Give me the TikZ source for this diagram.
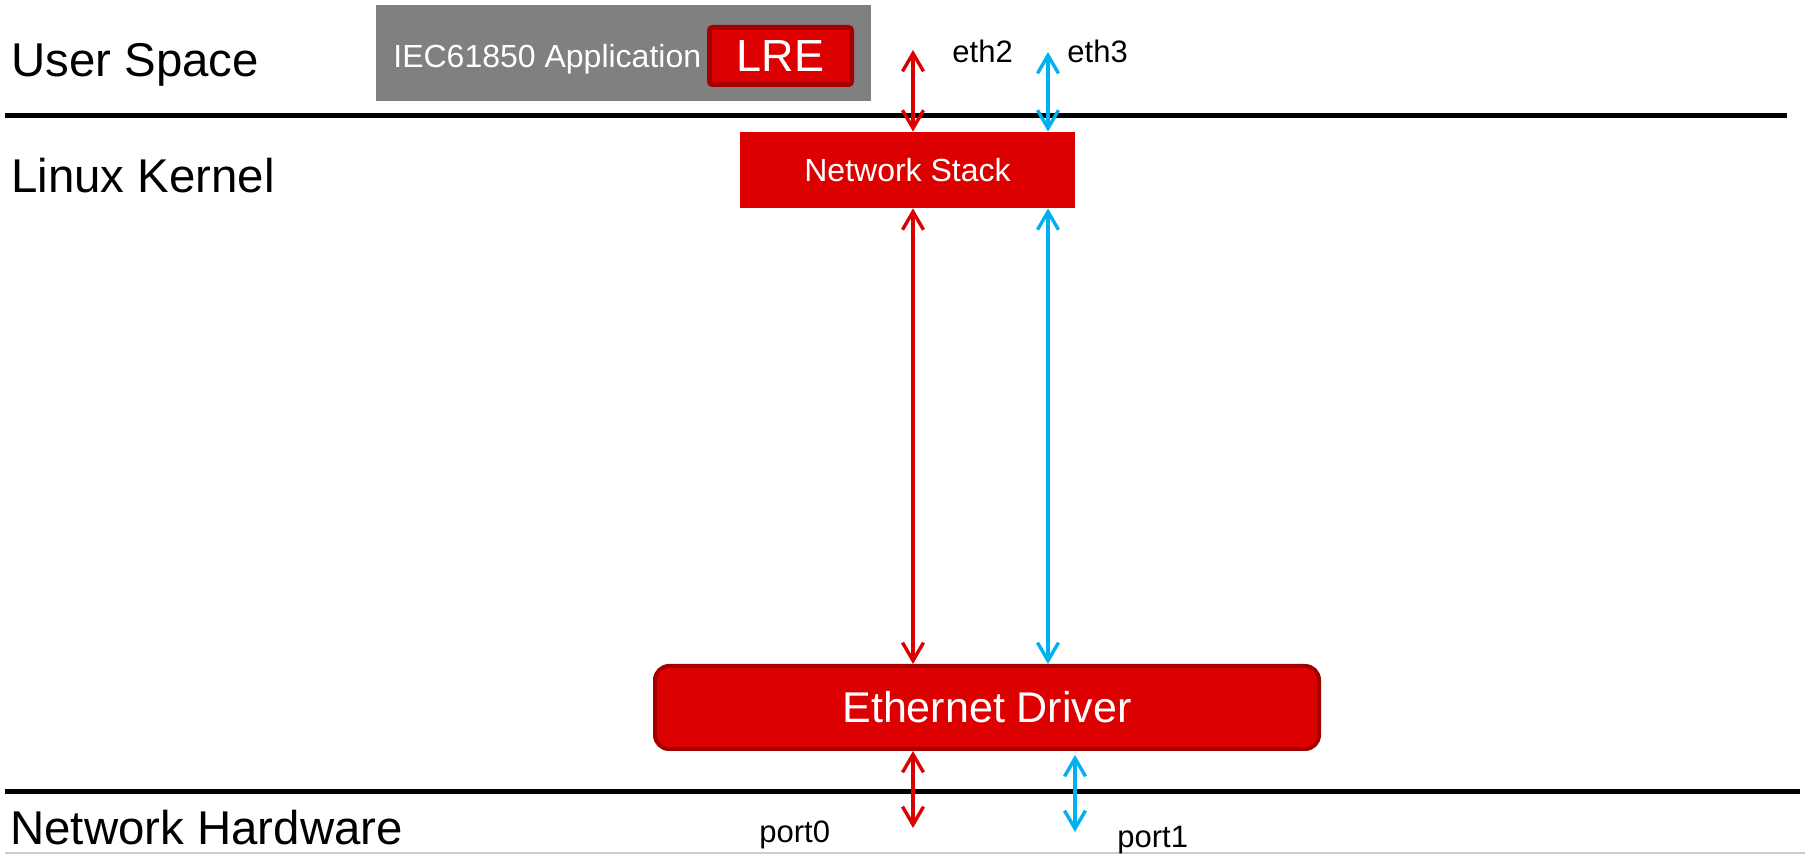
\documentclass[tikz,border=0pt]{standalone}
\usepackage{fontspec}
\setmainfont{Liberation Sans}
\usetikzlibrary{arrows.meta}
\definecolor{tired}{HTML}{DD0000}
\definecolor{tidark}{HTML}{A50000}
\definecolor{tiblue}{HTML}{00B0F0}
\definecolor{tigray}{HTML}{808080}
\begin{document}
\begin{tikzpicture}[x=0.5pt,y=-0.5pt,
  layer/.style={font=\fontsize{23.7}{28}\selectfont, anchor=base west, inner sep=0pt},
  small/.style={font=\fontsize{15.5}{18}\selectfont, anchor=base west, inner sep=0pt},
  rule/.style={line width=2.5pt, black},
  tip/.tip={Straight Barb[length=9pt,width=10.5pt]},
  link/.style={line width=1.7pt, tip-tip},
  redbox/.style={fill=tired, text=white, inner sep=0pt},
]
\useasboundingbox (0,0) rectangle (1805,854);
\fill[white] (0,0) rectangle (1805,854);

% layer labels
\node[layer] (us) at (11,77) {User Space};
\node[layer] (lk) at (11,193) {Linux Kernel};
\node[layer] (nh) at (10,845) {Network Hardware};

% rules
\coordinate (r1a) at (5,116);
\coordinate (r1b) at (1787,116);
\coordinate (r2a) at (5,792);
\coordinate (r2b) at (1800,792);
\draw[rule] (r1a) -- (r1b);
\draw[rule] (r2a) -- (r2b);
\coordinate (r3a) at (5,853);
\coordinate (r3b) at (1805,853);
\draw[line width=0.8pt, gray!40] (r3a) -- (r3b);

% application box
\node[fill=tigray, minimum width=247.5pt, minimum height=48pt, inner sep=0pt] (app) at (623.5,53) {};
\node[font=\fontsize{16}{19}\selectfont, text=white, anchor=base west, inner sep=0pt] (iec) at (393,68) {IEC61850 Application};
\node[redbox, draw=tidark, line width=2.5pt, rounded corners=1.5pt, minimum width=71pt, minimum height=28.5pt, font=\fontsize{22.5}{27}\selectfont] (lre) at (780.5,56) {LRE};

% network stack
\node[redbox, minimum width=167.5pt, minimum height=38pt, font=\fontsize{16}{19}\selectfont] (ns) at (907.5,170) {Network Stack};

% ethernet driver
\node[redbox, draw=tidark, line width=2pt, rounded corners=7pt, minimum width=332pt, minimum height=41.5pt, font=\fontsize{21.5}{26}\selectfont] (ed) at (987,707.5) {Ethernet Driver};

% labels
\node[small] (eth2) at (952,63) {eth2};
\node[small] (eth3) at (1067,63) {eth3};
\node[small] (p0) at (759,843) {port0};
\node[small] (p1) at (1117,848) {port1};

% free ends
\coordinate (e2top) at (913,50);
\coordinate (e3top) at (1048,52);
\coordinate (p0end) at (913,828);
\coordinate (p1end) at (1075,832);

% connectors
\draw[link, tired] (e2top) -- (e2top |- ns.north);
\draw[link, tiblue] (e3top) -- (e3top |- ns.north);
\draw[link, tired] (e2top |- ns.south) -- (e2top |- ed.north);
\draw[link, tiblue] (e3top |- ns.south) -- (e3top |- ed.north);
\draw[link, tired] (p0end |- ed.south) -- (p0end);
\draw[link, tiblue] ([yshift=-2pt]p1end |- ed.south) -- (p1end);
\end{tikzpicture}
\end{document}
